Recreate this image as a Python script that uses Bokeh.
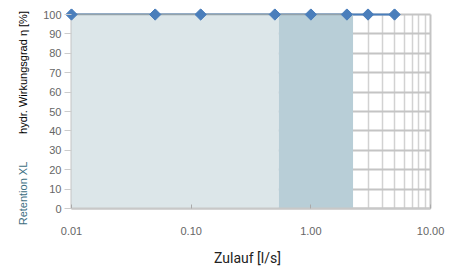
import math
from bokeh.plotting import figure
from bokeh.models import FixedTicker, NumeralTickFormatter, Label, Range1d, BoxAnnotation
from bokeh.embed import file_html
from bokeh.resources import INLINE

# ---- data ----
flow = [0.01, 0.05, 0.12, 0.5, 1.0, 2.0, 3.0, 5.0]          # Zulauf [l/s]
efficiency = [100, 100, 100, 100, 100, 100, 100, 100]       # hydr. Wirkungsgrad [%]
zone_start = [0.01, 0.54]
zone_end = [0.54, 2.25]
zone_colors = ["#dce6e9", "#b8ced7"]
x_ticks = [0.01, 0.1, 1, 10]
x_minor = [m * d for d in (0.01, 0.1, 1) for m in range(2, 10)]
y_ticks = list(range(0, 101, 10))
y_title = "hydr. Wirkungsgrad η [%]"
series_title = "Retention XL"
x_title = "Zulauf [l/s]"

X0, X1 = 0.002552, 13.58
Y0, Y1 = -30.93, 103.1
p = figure(x_axis_type="log", output_backend="svg", toolbar_location=None,
           x_range=Range1d(X0, X1), y_range=Range1d(Y0, Y1),
           frame_width=446, frame_height=260,
           min_border_left=0, min_border_right=0, min_border_top=8,
           min_border_bottom=0)
p.outline_line_color = None
p.background_fill_color = "white"

# grids
p.xgrid.ticker = FixedTicker(ticks=x_ticks, minor_ticks=x_minor)
p.xgrid.grid_line_color = "#c4c4c4"
p.xgrid.grid_line_width = 2
p.xgrid.minor_grid_line_color = "#d2d2d2"
p.xgrid.minor_grid_line_width = 1.5
p.ygrid.ticker = FixedTicker(ticks=y_ticks)
p.ygrid.grid_line_color = "#c4c4c4"
p.ygrid.grid_line_width = 2
try:
    p.ygrid.cross_bounds = (x_ticks[0], x_ticks[-1])
    p.xgrid.cross_bounds = (y_ticks[0], y_ticks[-1])
except Exception:
    p.add_layout(BoxAnnotation(right=x_ticks[0], fill_color="white", fill_alpha=1,
                               line_color=None, level="underlay"))
    p.add_layout(BoxAnnotation(bottom=y_ticks[-1] + 0.8, fill_color="white",
                               fill_alpha=1, line_color=None, level="underlay"))
    p.add_layout(BoxAnnotation(top=y_ticks[0], fill_color="white",
                               fill_alpha=1, line_color=None, level="underlay"))

# blue series line (underneath the zones)
p.line(flow, efficiency, line_color="#4a7ebb", line_width=2)

# zones
p.quad(left=zone_start, right=zone_end, bottom=0, top=100,
       fill_color=zone_colors, line_color=None)
p.line([zone_start[0], zone_end[-1]], [efficiency[0], efficiency[-1]],
       line_color="#93a2aa", line_width=1.5)

# markers
p.scatter(flow, efficiency, marker="square", angle=math.pi / 4, size=8,
          fill_color="#4a7ebb", line_color="#4a7ebb")

# axes
xa = p.xaxis[0]
xa.fixed_location = y_ticks[0]
xa.ticker = FixedTicker(ticks=x_ticks, minor_ticks=x_minor)
xa.bounds = (x_ticks[0], x_ticks[-1])
xa.formatter = NumeralTickFormatter(format="0.00")
xa.axis_line_color = "#c8c8c8"
xa.axis_line_width = 2
xa.major_tick_in = 4
xa.major_tick_out = 0
xa.major_tick_line_color = "#aaaaaa"
xa.minor_tick_line_color = None
xa.major_label_standoff = 14
xa.major_label_text_font = "Liberation Sans"
xa.major_label_text_font_size = "11px"
xa.major_label_text_color = "#666666"

ya = p.yaxis[0]
ya.fixed_location = x_ticks[0]
ya.ticker = FixedTicker(ticks=y_ticks)
ya.axis_line_color = None
ya.major_tick_in = 0
ya.major_tick_out = 7
ya.major_tick_line_color = "#cccccc"
ya.minor_tick_line_color = None
ya.major_label_standoff = 3
ya.major_label_text_font = "Liberation Sans"
ya.major_label_text_font_size = "11px"
ya.major_label_text_color = "#666666"

def side_label(text, y, color):
    return Label(x=22, y=y, x_units="screen", y_units="screen", text=text,
                 angle=math.pi / 2, text_align="center", text_baseline="middle",
                 text_font="Liberation Sans", text_font_size="11px",
                 text_color=color)

# screen y measured from the frame bottom (page y 268)
p.add_layout(side_label(y_title, 196, "#000000"))
p.add_layout(side_label(series_title, 75, "#3d6f82"))
p.add_layout(Label(x=247, y=11, x_units="screen", y_units="screen", text=x_title,
                   text_align="center", text_baseline="middle",
                   text_font="Roboto", text_font_size="14px",
                   text_color="#222222"))

open("out.html", "w").write(file_html(p, INLINE))
